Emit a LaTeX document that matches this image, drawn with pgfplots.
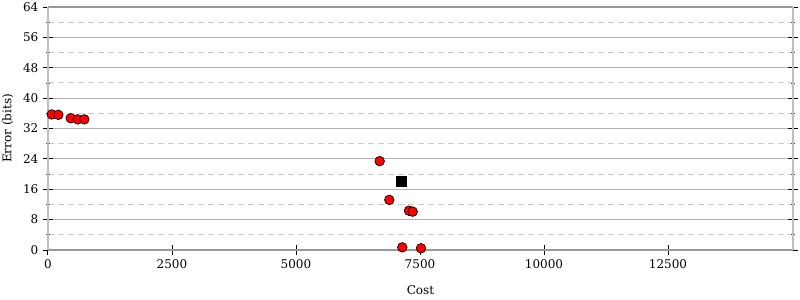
\documentclass[border=0pt]{standalone}
\usepackage{fontspec}
\setmainfont{DejaVu Serif}
\usepackage{pgfplots}
\pgfplotsset{compat=1.18}
\begin{document}
\begin{tikzpicture}
\begin{axis}[
  scale only axis,
  width=558.75pt, height=182.25pt,
  at={(0,0)}, anchor=south west,
  xmin=0, xmax=15020, ymin=0, ymax=64,
  xtick={0,2500,5000,7500,10000,12500},
  ytick={0,8,...,64},
  minor ytick={4,12,...,60},
  xtick pos=bottom, ytick pos=both,
  tick align=center,
  major tick length=7.5pt, minor tick length=3pt,
  tick style={black, line width=0.75pt},
  minor tick style={black!70, line width=0.6pt},
  ymajorgrids, yminorgrids,
  major grid style={color=black!30, line width=0.75pt, solid},
  minor grid style={color=black!20, line width=0.75pt, dash pattern=on 4.5pt off 3pt},
  separate axis lines,
  x axis line style={draw=black!40, line width=1.8pt},
  y axis line style={draw=black!25, line width=1.8pt},
  /pgf/number format/assume math mode=true,
  /pgf/number format/set thousands separator={},
  scaled x ticks=false,
  tick label style={font=\fontsize{9}{11}\selectfont},
  label style={font=\fontsize{9}{11}\selectfont},
  xlabel={Cost}, ylabel={Error (bits)},
  xlabel style={at={(axis description cs:0.5,-0.165)}, anchor=center},
  ylabel style={at={(axis description cs:-0.054,0.5)}, anchor=center, rotate=0},
  clip=false,
]
\addplot[only marks, mark=*, mark size=3.6pt, mark options={fill=red, draw=black, line width=0.5pt}]
coordinates {
(75,35.7) (208,35.6) (458,34.7) (599,34.4) (732,34.4)
(6687,23.4) (6881,13.2) (7278,10.35) (7352,10.1) (7143,0.7) (7520,0.45)
};
\addplot[only marks, mark=square*, mark size=3.75pt, mark options={fill=black, draw=black}]
coordinates {(7131,18.2)};
\end{axis}
\pgfresetboundingbox
\path (-36pt,-37.5pt) rectangle (564pt,187.5pt);
\end{tikzpicture}
\end{document}
